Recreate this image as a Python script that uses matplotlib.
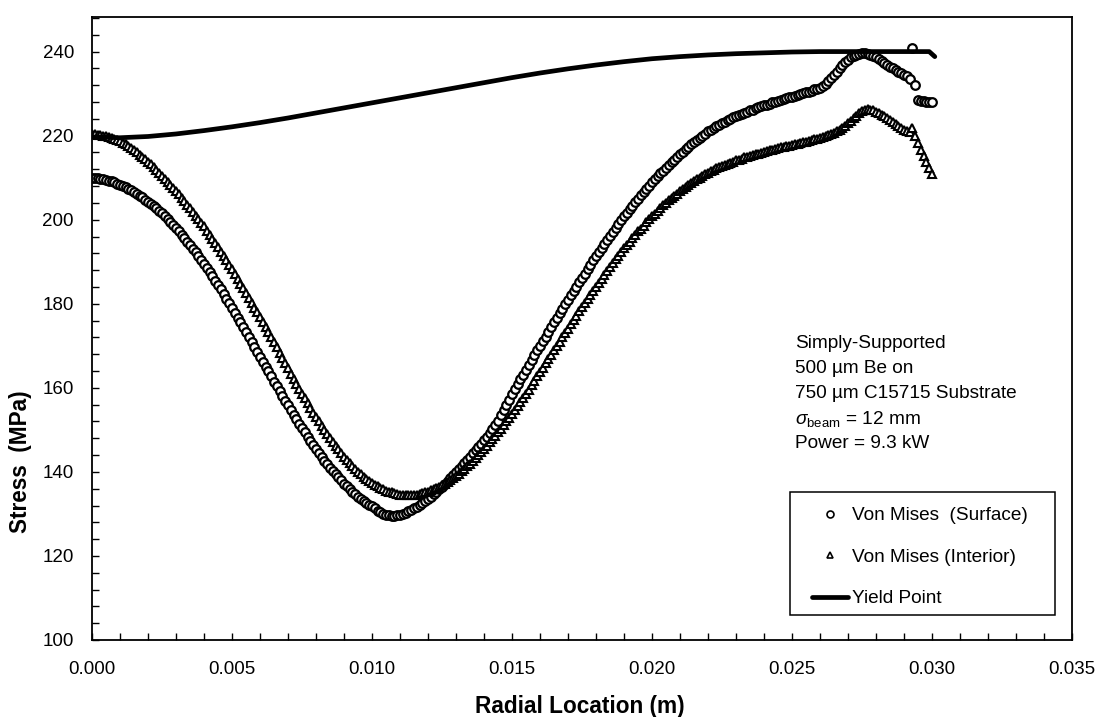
import numpy as np
import matplotlib
matplotlib.use("Agg")
import matplotlib.pyplot as plt
from matplotlib.ticker import MultipleLocator, FormatStrFormatter
from matplotlib.patches import Rectangle

plt.rcParams["font.family"] = ["Liberation Sans", "DejaVu Sans"]
plt.rcParams["mathtext.fontset"] = "custom"
plt.rcParams["mathtext.rm"] = "Liberation Sans"
plt.rcParams["mathtext.it"] = "Liberation Sans:italic"

# Radial sample positions (m), 0.1 mm spacing from the centre to the edge
radial = np.round(np.arange(301) * 0.0001, 4)

# Von Mises stress at the Be surface (MPa)
surface = [
    210.0, 210.0, 209.9, 209.7, 209.6, 209.5, 209.3, 209.1, 208.9, 208.6,
    208.3, 208.0, 207.7, 207.3, 207.0, 206.6, 206.2, 205.7, 205.3, 204.8,
    204.3, 203.8, 203.2, 202.7, 202.1, 201.5, 200.8, 200.1, 199.4, 198.7,
    198.0, 197.2, 196.4, 195.6, 194.8, 194.0, 193.1, 192.2, 191.3, 190.4,
    189.5, 188.5, 187.5, 186.5, 185.5, 184.5, 183.4, 182.3, 181.2, 180.1,
    179.0, 177.9, 176.7, 175.6, 174.4, 173.3, 172.1, 170.9, 169.8, 168.6,
    167.4, 166.2, 165.0, 163.9, 162.7, 161.5, 160.4, 159.2, 158.1, 156.9,
    155.8, 154.7, 153.6, 152.6, 151.5, 150.4, 149.4, 148.4, 147.4, 146.4,
    145.4, 144.5, 143.6, 142.7, 141.9, 141.0, 140.2, 139.5, 138.7, 138.0,
    137.2, 136.6, 135.9, 135.3, 134.7, 134.1, 133.6, 133.1, 132.7, 132.2,
    131.8, 131.3, 130.8, 130.4, 130.0, 129.8, 129.7, 129.6, 129.6, 129.7,
    129.8, 130.0, 130.3, 130.6, 130.9, 131.3, 131.7, 132.1, 132.6, 133.1,
    133.6, 134.1, 134.7, 135.3, 135.9, 136.5, 137.1, 137.8, 138.5, 139.2,
    139.9, 140.6, 141.4, 142.1, 142.8, 143.6, 144.4, 145.1, 145.9, 146.7,
    147.5, 148.4, 149.3, 150.2, 151.2, 152.2, 153.5, 154.7, 156.0, 157.2,
    158.5, 159.7, 160.8, 162.0, 163.1, 164.3, 165.4, 166.6, 167.7, 168.9,
    170.0, 171.1, 172.2, 173.4, 174.5, 175.6, 176.7, 177.8, 178.8, 179.9,
    181.0, 182.0, 183.1, 184.1, 185.2, 186.2, 187.2, 188.2, 189.3, 190.3,
    191.3, 192.3, 193.3, 194.2, 195.2, 196.2, 197.1, 198.0, 199.0, 199.9,
    200.8, 201.6, 202.5, 203.3, 204.2, 205.0, 205.8, 206.6, 207.3, 208.1,
    208.9, 209.6, 210.3, 211.0, 211.7, 212.4, 213.0, 213.7, 214.3, 215.0,
    215.6, 216.2, 216.8, 217.3, 217.9, 218.5, 219.0, 219.5, 220.0, 220.5,
    221.0, 221.4, 221.8, 222.2, 222.6, 223.0, 223.3, 223.7, 224.0, 224.4,
    224.7, 225.0, 225.2, 225.5, 225.7, 226.0, 226.2, 226.5, 226.7, 227.0,
    227.2, 227.4, 227.6, 227.9, 228.1, 228.3, 228.5, 228.7, 228.9, 229.1,
    229.3, 229.5, 229.7, 229.9, 230.1, 230.3, 230.5, 230.7, 231.0, 231.2,
    231.4, 231.8, 232.3, 232.9, 233.6, 234.4, 235.2, 236.0, 236.8, 237.5,
    238.1, 238.6, 239.0, 239.3, 239.5, 239.6, 239.6, 239.5, 239.3, 239.0,
    238.6, 238.2, 237.8, 237.3, 236.9, 236.4, 236.0, 235.6, 235.2, 234.8,
    234.5, 234.2, 233.5, 240.8, 232.0, 228.5, 228.3, 228.2, 228.1, 228.0,
    227.9,
]

# Von Mises stress at the Be / substrate interface (MPa)
interior = [
    220.3, 220.3, 220.2, 220.1, 220.0, 219.9, 219.7, 219.5, 219.2, 219.0,
    218.7, 218.3, 217.9, 217.5, 217.1, 216.6, 216.1, 215.5, 215.0, 214.4,
    213.8, 213.2, 212.5, 211.8, 211.2, 210.5, 209.8, 209.0, 208.3, 207.5,
    206.8, 206.0, 205.2, 204.4, 203.6, 202.8, 201.9, 201.0, 200.2, 199.3,
    198.4, 197.4, 196.4, 195.5, 194.5, 193.5, 192.4, 191.4, 190.3, 189.3,
    188.2, 187.1, 186.0, 184.8, 183.7, 182.6, 181.4, 180.3, 179.1, 178.0,
    176.8, 175.6, 174.4, 173.2, 172.0, 170.8, 169.6, 168.3, 167.1, 165.8,
    164.6, 163.4, 162.2, 161.0, 159.8, 158.6, 157.5, 156.4, 155.2, 154.1,
    153.0, 152.0, 151.0, 150.0, 149.0, 148.0, 147.1, 146.2, 145.4, 144.5,
    143.6, 142.9, 142.2, 141.4, 140.7, 140.0, 139.5, 138.9, 138.4, 137.8,
    137.3, 136.9, 136.6, 136.2, 135.9, 135.5, 135.3, 135.1, 134.9, 134.8,
    134.6, 134.5, 134.5, 134.5, 134.5, 134.5, 134.6, 134.8, 134.9, 135.1,
    135.3, 135.6, 135.9, 136.2, 136.5, 136.8, 137.2, 137.7, 138.1, 138.6,
    139.0, 139.6, 140.2, 140.7, 141.3, 141.9, 142.6, 143.3, 144.0, 144.7,
    145.4, 146.2, 147.0, 147.8, 148.6, 149.4, 150.3, 151.2, 152.0, 152.9,
    153.8, 154.8, 155.7, 156.7, 157.6, 158.6, 159.6, 160.6, 161.7, 162.7,
    163.7, 164.7, 165.8, 166.8, 167.9, 168.9, 169.9, 171.0, 172.0, 173.1,
    174.1, 175.1, 176.1, 177.2, 178.2, 179.2, 180.2, 181.2, 182.1, 183.1,
    184.1, 185.0, 186.0, 186.9, 187.9, 188.8, 189.7, 190.6, 191.4, 192.3,
    193.2, 194.0, 194.8, 195.6, 196.4, 197.2, 197.9, 198.6, 199.4, 200.1,
    200.8, 201.4, 202.1, 202.7, 203.4, 204.0, 204.6, 205.1, 205.7, 206.2,
    206.8, 207.3, 207.8, 208.2, 208.7, 209.2, 209.6, 210.0, 210.4, 210.8,
    211.2, 211.5, 211.8, 212.2, 212.5, 212.8, 213.1, 213.3, 213.6, 213.8,
    214.1, 214.3, 214.5, 214.8, 215.0, 215.2, 215.4, 215.6, 215.7, 215.9,
    216.1, 216.3, 216.5, 216.6, 216.8, 217.0, 217.2, 217.3, 217.5, 217.6,
    217.8, 218.0, 218.1, 218.3, 218.4, 218.6, 218.8, 219.0, 219.1, 219.3,
    219.5, 219.7, 220.0, 220.2, 220.5, 220.7, 221.0, 221.4, 221.9, 222.4,
    222.9, 223.5, 224.1, 224.7, 225.3, 225.8, 226.1, 226.3, 226.2, 226.0,
    225.7, 225.4, 225.0, 224.6, 224.2, 223.8, 223.3, 222.8, 222.3, 221.8,
    221.4, 221.1, 220.9, 221.7, 219.9, 218.3, 216.7, 215.2, 213.8, 212.3,
    210.8,
]

# Temperature-dependent yield strength along the radius (MPa)
yield_x = [0.000, 0.001, 0.002, 0.003, 0.004, 0.005, 0.006, 0.007, 0.008,
           0.009, 0.010, 0.011, 0.012, 0.013, 0.014, 0.015, 0.016, 0.017,
           0.018, 0.019, 0.020, 0.021, 0.022, 0.023, 0.024, 0.025, 0.026,
           0.027, 0.028, 0.029, 0.0299, 0.0301]
yield_y = [219.7, 219.5, 219.8, 220.4, 221.2, 222.1, 223.1, 224.2, 225.4,
           226.6, 227.8, 229.0, 230.2, 231.4, 232.6, 233.8, 234.9, 235.9,
           236.8, 237.6, 238.3, 238.8, 239.2, 239.5, 239.7, 239.9, 240.0,
           240.0, 240.0, 240.0, 240.0, 238.8]

notes = [
    "Simply-Supported",
    "500 \u00b5m Be on",
    "750 \u00b5m C15715 Substrate",
    r"$\sigma_{\mathrm{beam}}$ = 12 mm",
    "Power = 9.3 kW",
]

W, H = 1095, 717


def fig_xy(px, py):
    return px / W, 1 - py / H


fig = plt.figure(figsize=(W / 100, H / 100), dpi=100)
ax = fig.add_axes([92 / W, (H - 640) / H, 980 / W, 623.3 / H])

ax.plot(radial, surface, linestyle="none", marker="o", ms=6.2,
        mfc="white", mec="black", mew=1.6, label="Von Mises  (Surface)")
ax.plot(radial, interior, linestyle="none", marker="^", ms=6.2,
        mfc="white", mec="black", mew=1.5, label="Von Mises (Interior)")
ax.plot(yield_x, yield_y, color="black", lw=3.4, solid_capstyle="round",
        solid_joinstyle="round", label="Yield Point")

ax.set_xlim(0, 0.035)
ax.set_ylim(100, 248.3)
ax.xaxis.set_major_locator(MultipleLocator(0.005))
ax.xaxis.set_minor_locator(MultipleLocator(0.001))
ax.yaxis.set_major_locator(MultipleLocator(20))
ax.yaxis.set_minor_locator(MultipleLocator(4))
ax.xaxis.set_major_formatter(FormatStrFormatter("%.3f"))
ax.yaxis.set_major_formatter(FormatStrFormatter("%d"))
ax.tick_params(which="both", direction="in", length=5, width=1,
               top=False, right=False, labelsize=13.5, colors="black")
ax.tick_params(axis="x", pad=15)
ax.tick_params(axis="y", pad=13)
for s in ax.spines.values():
    s.set_linewidth(1.3)
    s.set_color("black")

fig.text(*fig_xy(580, 706), "Radial Location (m)", ha="center", va="center",
         fontsize=16.3, fontweight="bold")
fig.text(*fig_xy(21, 462), "Stress  (MPa)", ha="center", va="center",
         rotation=90, fontsize=16.3, fontweight="bold")

baselines = [348.4, 372.5, 398.4, 424.2, 448.3]
for line, base in zip(notes, baselines):
    fig.text(*fig_xy(795, base), line, ha="left", va="baseline", fontsize=13.7)

# Legend: a plain black box with the entries placed inside it
frame_x0, frame_y0 = fig_xy(790, 615)
frame_x1, frame_y1 = fig_xy(1055, 492)
ax.add_patch(Rectangle((frame_x0, frame_y0), frame_x1 - frame_x0,
                       frame_y1 - frame_y0, transform=fig.transFigure,
                       facecolor="white", edgecolor="black", linewidth=1.1,
                       clip_on=False, zorder=4))
leg = ax.legend(loc="upper left",
                bbox_to_anchor=((812 - 92) / 980, (640 - 507) / 623.3),
                frameon=False, borderpad=0, borderaxespad=0, numpoints=1,
                handlelength=1.9, handletextpad=0.2, labelspacing=1.27,
                fontsize=13.7)
leg.set_zorder(6)
for h in leg.legend_handles[:2]:
    h.set_markersize(5.0)
    h.set_markeredgewidth(1.2)

fig.savefig("out.png", dpi=100, facecolor="white")
